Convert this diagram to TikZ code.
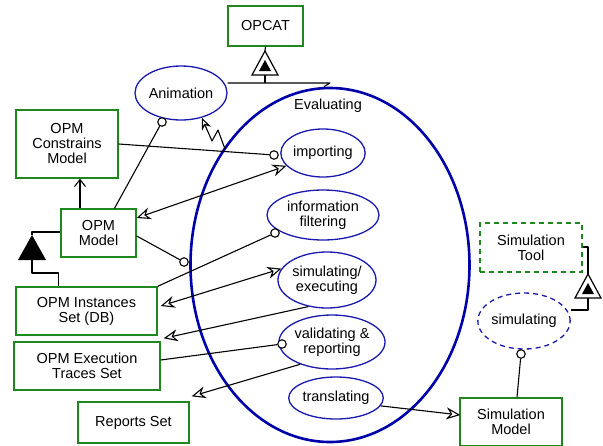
\documentclass[tikz,border=0pt]{standalone}
\usepackage{fontspec}
\setmainfont{Liberation Sans}
\usetikzlibrary{shapes.geometric,arrows.meta,calc}
\definecolor{boxgreen}{RGB}{30,135,30}
\definecolor{procblue}{RGB}{25,25,175}
\definecolor{zoneblue}{RGB}{0,0,170}
\begin{document}
\begin{tikzpicture}[x=1pt,y=-1pt,
  font=\fontsize{14.5}{15}\selectfont,
  obj/.style={draw=boxgreen, line width=1.4pt, rectangle, align=center, inner sep=0pt, fill=white},
  proc/.style={draw=procblue, line width=1.3pt, ellipse, align=center, inner sep=0pt, fill=white},
  zone/.style={draw=zoneblue, line width=2.6pt, ellipse, inner sep=0pt},
  link/.style={line width=1.1pt, line join=round},
  ohead/.tip={Stealth[open,fill=white,length=14pt,width=12pt,inset=4.5pt,line width=1.1pt]},
  openhead/.style={-ohead},
  twohead/.style={ohead-ohead},
  knob/.style={circle, draw, fill=white, line width=1.1pt, minimum size=8.5pt, inner sep=0pt},
  exhib/.pic={
    \draw[line width=1.2pt, fill=white, line join=miter] (0,0) -- (-13,24) -- (13,24) -- cycle;
    \fill (0,9) -- (-6,20) -- (6,20) -- cycle;
    \coordinate (-apex) at (0,0);
    \coordinate (-base) at (0,24);},
  aggr/.pic={
    \fill (0,0) -- (-14,25) -- (14,25) -- cycle;
    \coordinate (-apex) at (0,0);
    \coordinate (-base) at (0,25);}
]
\useasboundingbox (0,0) rectangle (603,445);

% in-zoomed process
\node[zone, minimum width=279pt, minimum height=354pt] (eval) at (330,265) {};
\node (evallabel) at (328,106) {Evaluating};

% objects
\node[obj, minimum width=75pt, minimum height=40pt] (opcat) at (265.5,26) {OPCAT};
\node[obj, minimum width=102pt, minimum height=68pt] (cons) at (67,144) {OPM\\Constrains\\Model};
\node[obj, minimum width=75pt, minimum height=48pt] (opmmodel) at (98.5,233) {OPM\\Model};
\node[obj, minimum width=141pt, minimum height=48pt] (inst) at (86.5,311) {OPM Instances\\Set (DB)};
\node[obj, minimum width=146pt, minimum height=48pt] (traces) at (87,366) {OPM Execution\\Traces Set};
\node[obj, minimum width=111pt, minimum height=41pt] (reports) at (133.5,422.5) {Reports Set};
\node[obj, dashed, dash pattern=on 5pt off 4pt, minimum width=102pt, minimum height=49pt] (simtool) at (531,247.5) {Simulation\\Tool};
\node[obj, minimum width=102pt, minimum height=48pt] (simmodel) at (511,422) {Simulation\\Model};

% processes
\node[proc, minimum width=92pt, minimum height=54pt] (anim) at (181,93) {Animation};
\node[proc, minimum width=84pt, minimum height=48pt] (importing) at (323,153) {importing};
\node[proc, minimum width=112pt, minimum height=50pt] (infofilt) at (323,215) {information\\filtering};
\node[proc, minimum width=90pt, minimum height=56pt] (simexec) at (327,280) {simulating/\\executing};
\node[proc, minimum width=90pt, minimum height=54pt] (valid) at (332,342) {validating \&\\reporting};
\node[proc, minimum width=94pt, minimum height=42pt] (transl) at (336,398) {translating};
\node[proc, dashed, dash pattern=on 5pt off 4pt, minimum width=92pt, minimum height=56pt] (simulating) at (524,321) {simulating};

% structural links
\pic (t1) at (265,51) {exhib};
\draw[link] (opcat.south) -- (t1-apex);
\coordinate (fork) at (265,83);
\draw[link] (t1-base) -- (fork);
\draw[link] (anim.east |- fork) -- (eval.north |- fork) -- ($(eval.north)+(-6,0)$);

\pic (t2) at (32,235) {aggr};
\coordinate (top2) at (32,232);
\draw[link] (opmmodel.west |- top2) -- (top2) -- (t2-apex);
\coordinate (bend) at (32,273);
\coordinate (drop) at ($(inst.north west)+(43,0)$);
\draw[link] (t2-base) -- (bend) -- (bend -| drop) -- (drop);

\pic (t3) at (588,274) {exhib};
\coordinate (tooltop) at (588,247);
\draw[link] (simtool.east |- tooltop) -- (tooltop) -- (t3-apex);
\coordinate (toolbot) at (588,310);
\draw[link] (t3-base) -- (toolbot) -- (simulating.east |- toolbot);

% instrument links
\node[knob] (c1) at (274,155) {};
\draw[link] (cons.east) -- (c1);
\node[knob] (c2) at (162,122) {};
\draw[link] ($(opmmodel.north)+(16,0)$) -- (c2);
\node[knob] (c3) at (184,262) {};
\draw[link] ($(opmmodel.east)+(0,3)$) -- (c3);
\node[knob] (c4) at (275,233) {};
\draw[link] (inst.north east) -- (c4);
\node[knob] (c5) at (282,344) {};
\draw[link] ($(traces.east)+(0,-6)$) -- (c5);
\node[knob] (c6) at (521,354) {};
\draw[link] (c6) -- ($(simmodel.north)+(6,0)$);

% tagged structural link
\draw[link, -{Straight Barb[length=7pt,width=11pt,line width=1.1pt]}]
  ($(opmmodel.north)+(-18.5,0)$) -- ($(cons.south)+(13,0)$);

% consumption / result links
\draw[link, twohead] ($(opmmodel.east)+(0,-15)$) -- (importing);
\draw[link, twohead] ($(inst.east)+(3,-5)$) -- (simexec.166);
\draw[link, openhead] (simexec.235) -- ($(traces.north east)+(3,-3)$);
\draw[link, openhead] (valid.215) -- ($(reports.north east)+(2,-5)$);
\draw[link, openhead] (transl.-10) -- ($(simmodel.west)+(1,-7)$);

% invocation link
\coordinate (zz) at (225,149);
\draw[link, -{Stealth[open,fill=white,length=12pt,width=10pt,inset=4pt,line width=1.1pt]}]
  (zz) -- (218,130) -- (212,141) -- (anim.-50);
\end{tikzpicture}
\end{document}
